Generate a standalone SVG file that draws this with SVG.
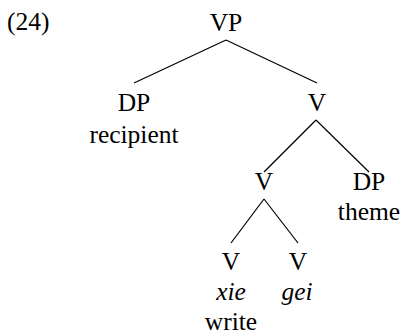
<svg xmlns="http://www.w3.org/2000/svg" width="402" height="336" viewBox="0 0 402 336">
<style>
text{font-family:"Liberation Serif","DejaVu Serif",serif;font-size:25.5px;fill:#000;text-anchor:middle}
.i{font-style:italic}
.l{text-anchor:start}
line{stroke:#000;stroke-width:1.2}
</style>
<rect width="402" height="336" fill="#fff"/>
<text class="l" x="7" y="30">(24)</text>
<g id="connectors">
<line x1="226" y1="40" x2="134" y2="83"/>
<line x1="226" y1="40" x2="317" y2="83"/>
<line x1="316" y1="120" x2="264" y2="172"/>
<line x1="316" y1="120" x2="369" y2="172"/>
<line x1="264" y1="199" x2="231" y2="243"/>
<line x1="264" y1="199" x2="298" y2="243"/>
</g>
<g id="vp"><text x="226" y="31">VP</text></g>
<g id="dp1"><text x="134" y="111">DP</text><text x="134" y="143">recipient</text></g>
<g id="v1"><text x="317" y="111">V</text></g>
<g id="v2"><text x="264" y="190">V</text></g>
<g id="dp2"><text x="369" y="190">DP</text><text x="369" y="220">theme</text></g>
<g id="v3"><text x="231" y="270">V</text><text class="i" x="231" y="300">xie</text><text x="231" y="330">write</text></g>
<g id="v4"><text x="298" y="270">V</text><text class="i" x="297" y="300">gei</text></g>
</svg>
